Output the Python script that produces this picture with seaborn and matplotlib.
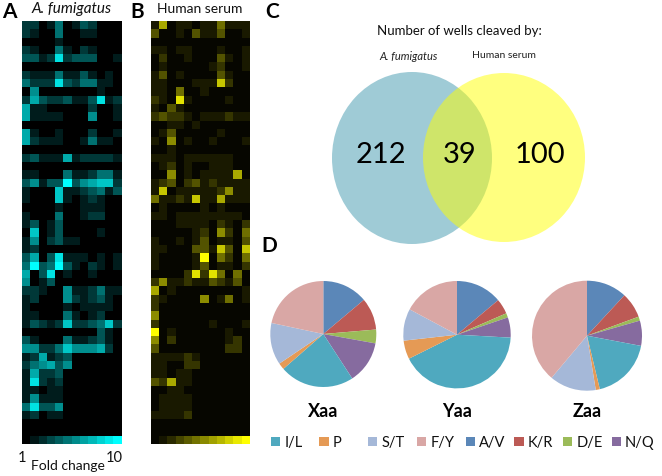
import matplotlib
matplotlib.use("Agg")
import numpy as np
import seaborn as sns
from matplotlib import pyplot as plt
from matplotlib.colors import LinearSegmentedColormap
from matplotlib.patches import Ellipse, Rectangle

# fold change levels, 0 = black, 9 = full colour. short rows are 0 to the right
fumigatus_rows = [
    [2,2,0,1,4,0,1,3,2,0,0,0],
    [2,1,0,0,4,0,0,1,1,0,0,0],
    [0,0,0,0,1,0,0,0,0,0,0,0],
    [2,1,0,0,4,1,0,2,1,0,0,0],
    [3,3,1,2,8,2,3,3,3,0,0,1],
    [0,0,0,0,0,0,0,0,0,0,0,0],
    [2,1,1,1,4,1,1,3,1,0,1,0],
    [4,2,2,2,8,3,2,4,4,1,1,0],
    [0,5,0,0,0,0,0,0,0,1,0,0],
    [2,6,3,2,2,3,1,1,3,8,1,2],
    [6,1,1,0,0,0,0,0,2,0,0,1],
    [6,1,1,1,1,0,0,0,5,0,0,1],
    [0,0,0,0,0,0,0,0,0,0,0,0],
    [6,1,0,0,1,0,0,0,2,0,0,1],
    [6,2,1,1,1,0,0,1,4,1,1,0],
    [0,0,0,0,0,0,0,0,0,0,0,0],
    [2,3,1,1,1,6,1,2,2,2,2,1],
    [0,0,0,0,0,0,0,0,0,0,0,0],
    [1,1,0,0,0,4,1,1,2,4,4,1],
    [3,5,1,3,3,9,3,5,6,7,7,2],
    [1,0,0,0,7,1,1,2,3,4,1,3],
    [1,0,0,0,7,1,0,1,2,1,0,0],
    [0,0,0,0,1,0,0,1,1,1,0,0],
    [1,0,0,0,4,0,0,1,2,2,0,0],
    [1,3,0,1,3,0,0,0,0,0,0,0],
    [0,7,0,1,3,0,0,0,0,1,0,0],
    [1,5,0,2,3,1,1,0,0,0,0,0],
    [1,2,0,0,0,0,0,0,0,0,0,0],
    [3,6,0,3,8,1,1,1,0,1,0,1],
    [4,9,3,4,9,3,1,0,2,1,0,1],
    [6,0,3,8,0,1,0,0,1,0,0,0],
    [5,0,1,3,0,0,0,0,0,0,0,0],
    [2,2,1,0,0,5,1,1,2,4,1,1],
    [1,2,0,0,0,5,2,1,2,3,1,0],
    [1,0,0,0,0,1,0,1,1,1,1,0],
    [1,1,0,0,0,4,1,0,1,2,0,0],
    [1,3,2,1,2,7,2,2,3,4,7,2],
    [0,0,0,0,0,0,0,0,0,3,1,0],
    [3,1,0,0,0,4,1,1,2,3,1,0],
    [5,5,2,2,4,7,5,5,5,6,2,0],
    [1,2,6,1,2,3],
    [2,4,5,6,3,5],
    [1,6,2,2,3],
    [1,8,2,1,2],
    [1,1,0,1,1],
    [1,5,1,1,1],
    [4,8,3,3,5],
    [1,2,0,1,1],
    [],
    [],
]

serum_rows = [
    [1,6,0,1,1,0,1,1,4,1,1,1],
    [3,0,0,1,0,3,1,1,3,0,0,1],
    [0,0,0,0,0,0,0,0,0,0,0,0],
    [1,1,0,1,1,0,0,0,1,0,0,1],
    [0,2,0,0,1,0,0,0,3,1,0,1],
    [0,1,0,0,0,0,0,1,2,0,0,1],
    [1,3,0,1,0,0,0,0,3,1,0,0],
    [1,1,0,0,0,1,1,1,7,2,0,0],
    [1,1,0,4,0,0,1,0,0,0,0,0],
    [2,1,0,8,1,0,0,0,0,1,0,0],
    [1,0,3,1,0,0,0,0,0,0,0,0],
    [2,3,2,2,1,0,1,1,1,2,1,1],
    [0,0,1,1,0,1,0,0,0,0,0,0],
    [0,1,3,0,0,0,0,0,1,0,0,0],
    [1,0,5,0,1,0,0,1,0,0,0,1],
    [0,0,1,0,0,0,0,0,0,0,0,0],
    [1,1,1,0,1,1,1,1,1,1,0,0],
    [0,1,2,0,1,0,0,1,1,1,0,0],
    [0,0,5,0,1,0,1,1,1,1,6,0],
    [1,2,3,0,2,3,1,2,1,1,1,1],
    [1,7,0,1,1,1,1,1,2,5,1,1],
    [4,1,1,2,1,7,1,1,6,1,1,1],
    [0,1,0,0,0,0,1,0,1,0,0,0],
    [1,1,0,1,1,1,1,1,1,1,1,0],
    [0,0,0,1,1,1,1,0,2,1,0,2],
    [0,0,0,0,0,1,2,0,5,2,0,4],
    [1,0,0,1,0,1,3,0,1,1,0,3],
    [1,1,0,0,0,3,3,1,7,3,0,7],
    [1,0,0,0,0,1,9,0,4,2,0,4],
    [1,0,0,0,0,1,3,0,1,1,0,2],
    [0,0,0,0,2,8,2,8,4,0,4,0],
    [2,5,1,1,2,1,1,3,2,1,3,0],
    [6,0,1,0,0,0,0,0,0,0,0,1],
    [2,1,0,0,0,0,5,0,1,4,0,1],
    [2,0,0,0,0,0,0,0,0,0,0,0],
    [5,0,0,0,0,0,0,0,0,0,0,0],
    [2,0,0,0,0,0,0,1,0,0,0,1],
    [9,0,1,0,0,0,0,0,0,1,0,0],
    [5,0,2,0,0,0,0,0,0,1,2,0],
    [3,0,0,0,0,0,0,0,0,2,2,0],
    [1,1,1,1,2,1],
    [1,1,0,0,2,2],
    [1,1,0,1,1],
    [3,2,6,1,1],
    [0,0,1,1],
    [0,1,1,1,1],
    [0,1,1,1,1],
    [1,1,1,1,2],
    [],
    [],
]

# gradient strip drawn in the last row of each heatmap
scale_row = [0,0.8,1.6,2.5,3.3,4.1,4.9,5.7,6.5,7.4,8.2,9]

residues = ["A/V", "K/R", "D/E", "N/Q", "I/L", "P", "S/T", "F/Y"]
residue_colors = ["#5B87B8", "#BC5A55", "#9BBB59", "#866B9F", "#4FA9BF", "#E59A55", "#A5B8D8", "#D9A7A5"]
legend_order = ["I/L", "P", "S/T", "F/Y", "A/V", "K/R", "D/E", "N/Q"]

xaa = [13.9, 9.8, 4.2, 13.0, 22.8, 2.0, 12.8, 21.7]
yaa = [13.9, 4.6, 1.3, 6.1, 41.8, 5.6, 9.6, 17.2]
zaa = [11.9, 7.5, 1.2, 7.4, 18.3, 1.2, 13.7, 38.9]
pie_names = ["Xaa", "Yaa", "Zaa"]

venn_counts = [212, 39, 100]

W, H = 662, 477

sns.set_theme(style="white")
plt.rcParams['font.family'] = ['Lato', 'DejaVu Sans']


def px_axes(fig, x0, y0, x1, y1):
    # axes from pixel box, y measured from the top of the image
    return fig.add_axes([x0 / W, 1 - y1 / H, (x1 - x0) / W, (y1 - y0) / H])


def to_matrix(rows):
    m = np.zeros((len(rows) + 1, 12))
    for i, r in enumerate(rows):
        m[i, :len(r)] = r
    m[-1] = scale_row
    return m


def draw_heat(ax, rows, colors):
    cmap = LinearSegmentedColormap.from_list("fold", colors)
    sns.heatmap(to_matrix(rows), ax=ax, cmap=cmap, vmin=0, vmax=9, cbar=False,
                xticklabels=False, yticklabels=False, linewidths=0)


fig = plt.figure(figsize=(W / 100, H / 100), dpi=100)

draw_heat(px_axes(fig, 22, 22, 121.5, 445), fumigatus_rows, ["#000000", "#00FFFF"])
# serum map is very dim at the low end
draw_heat(px_axes(fig, 150.7, 22, 250, 445), serum_rows,
          [(0, "#060600"), (1 / 9, "#191900"), (2 / 9, "#363600"), (1, "#FFFF00")])

# overlay in image pixels for venn, labels and legend
ov = fig.add_axes([0, 0, 1, 1], zorder=-1)
ov.set_xlim(0, W)
ov.set_ylim(H, 0)
ov.axis("off")

ov.add_patch(Ellipse((412, 159), 160, 172, fc="#9FCBD6", ec="none"))
ov.add_patch(Ellipse((504, 158.5), 162, 169, fc="#FFFF00", alpha=0.5, ec="none"))

for x, n in zip([381, 460, 539.5], venn_counts):
    ov.text(x, 155, str(n), ha="center", va="center", fontsize=21, color="black")

ov.text(459, 31, "Number of wells cleaved by:", ha="center", va="center", fontsize=9.5, color="#111111")
ov.text(409, 56, "A. fumigatus", ha="center", va="center", fontsize=8, style="italic", color="#222222")
ov.text(504, 56, "Human serum", ha="center", va="center", fontsize=7.5, color="#222222")

for x, y, s in [(9.5, 12, "A"), (137, 12, "B"), (272, 12, "C"), (269, 246, "D")]:
    ov.text(x, y, s, ha="center", va="center", fontsize=15, fontweight="bold", color="black")

ov.text(72, 9, "A. fumigatus", ha="center", va="center", fontsize=11, style="italic", color="#111111")
ov.text(200, 9, "Human serum", ha="center", va="center", fontsize=10, color="#111111")

ov.text(22, 458, "1", ha="center", va="center", fontsize=10.5, color="#111111")
ov.text(114.5, 458, "10", ha="center", va="center", fontsize=10.5, color="#111111")
ov.text(68, 466, "Fold change", ha="center", va="center", fontsize=10, color="#111111")

# pies, clockwise from the top
pie_boxes = [(323.3, 335, 53), (457, 335.7, 53.7), (587, 336.7, 55)]
for (cx, cy, r), vals, name in zip(pie_boxes, [xaa, yaa, zaa], pie_names):
    ax = px_axes(fig, cx - r, cy - r, cx + r, cy + r)
    ax.pie(vals, colors=residue_colors, startangle=90, counterclock=False, radius=1,
           wedgeprops={"linewidth": 0})
    ax.set_xlim(-1, 1)
    ax.set_ylim(-1, 1)
    ov.text(cx, 412, name, ha="center", va="center", fontsize=13, fontweight="bold", color="black")

for i, name in enumerate(legend_order):
    x = 270.7 + i * 48.7
    ov.add_patch(Rectangle((x, 438), 9.3, 8.5, fc=residue_colors[residues.index(name)], ec="none"))
    ov.text(x + 13.5, 443, name, ha="left", va="center", fontsize=10.5, color="#111111")

fig.savefig("out.png", dpi=100)
